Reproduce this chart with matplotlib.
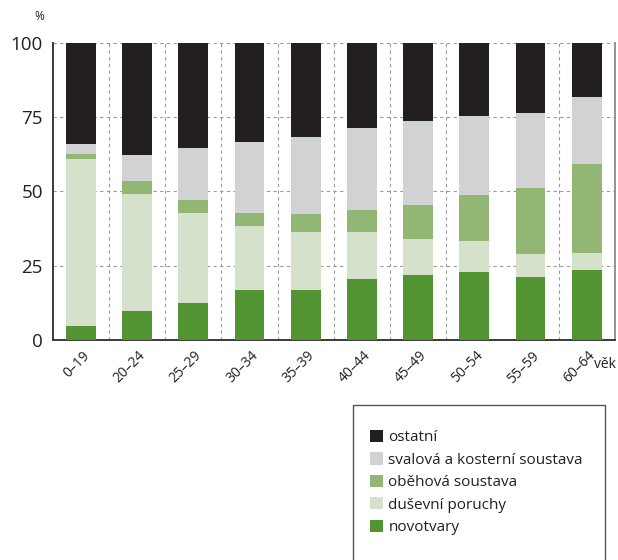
import matplotlib
matplotlib.use("Agg")
import matplotlib.pyplot as plt
import matplotlib.transforms as mtransforms
import numpy as np
from matplotlib.patches import Rectangle

# Age groups and shares (%) per diagnosis group
ages = ["0–19", "20–24", "25–29", "30–34", "35–39",
        "40–44", "45–49", "50–54", "55–59", "60–64"]
novotvary = [4.7, 9.8, 12.4, 16.8, 16.8, 20.5, 21.9, 22.9, 21.2, 23.5]
dusevni = [56.2, 39.3, 30.3, 21.5, 19.5, 15.8, 12.1, 10.4, 7.7, 5.8]
obehova = [1.7, 4.4, 4.4, 4.4, 6.1, 7.4, 11.4, 15.5, 22.2, 29.9]
svalova = [3.3, 8.7, 17.5, 23.9, 25.9, 27.6, 28.3, 26.5, 25.3, 22.5]
ostatni = [34.1, 37.8, 35.4, 33.4, 31.7, 28.7, 26.3, 24.7, 23.6, 18.3]

series = [
    ("novotvary", novotvary, "#529432"),
    ("duševní poruchy", dusevni, "#d5e1cb"),
    ("oběhová soustava", obehova, "#92b775"),
    ("svalová a kosterní soustava", svalova, "#d1d2d4"),
    ("ostatní", ostatni, "#231f20"),
]

plt.rcParams["font.family"] = ["Open Sans", "DejaVu Sans"]

fig = plt.figure(figsize=(6.18, 5.6), dpi=100)
ax = fig.add_axes([0.0853, 0.393, 0.9097, 0.531])

x = np.arange(len(ages))
bottom = np.zeros(len(ages))
handles = []
for label, vals, color in series:
    h = ax.bar(x, vals, width=0.53, bottom=bottom, color=color, label=label, zorder=3)
    handles.append(h)
    bottom += np.array(vals)

# dashed grid
for yv in [25, 50, 75, 100]:
    ax.axhline(yv, color="#9a9a9a", lw=0.8, ls=(0, (3, 3)), zorder=1)
for xv in np.arange(0.5, 9.5, 1.0):
    if abs(xv - 7.5) < 0.01:
        continue
    ax.axvline(xv, color="#9a9a9a", lw=0.8, ls=(0, (3, 3)), zorder=1)

ax.set_xlim(-0.5, 9.5)
ax.set_ylim(0, 100)
ax.set_yticks([0, 25, 50, 75, 100])
ax.tick_params(axis="y", length=0, labelsize=13.5, pad=7, labelcolor="#231f20")
ax.set_xticks(x)
ax.set_xticklabels(ages, rotation=45, ha="right", va="top", rotation_mode="anchor")
ax.tick_params(axis="x", length=0, labelsize=10, pad=6, labelcolor="#231f20")
shift = mtransforms.ScaledTranslation(1 / 100, 0, fig.dpi_scale_trans)
for lbl in ax.get_xticklabels():
    lbl.set_transform(lbl.get_transform() + shift)

ax.spines["top"].set_visible(False)
for side in ["left", "bottom"]:
    ax.spines[side].set_color("#3a3a3a")
    ax.spines[side].set_linewidth(1.4)
ax.spines["right"].set_color("#8a8a8a")
ax.spines["right"].set_linewidth(1.3)

fig.text(39 / 618, 1 - 16 / 560, "%", fontsize=8.5, ha="center", va="center", color="#231f20")
fig.text(594 / 618, 1 - 364 / 560, "věk", fontsize=10, ha="left", va="center", color="#231f20")

# legend box (runs off the bottom edge like the original)
fig.patches.append(Rectangle((353 / 618, -0.05), 252 / 618, 0.05 + 155 / 560,
                             transform=fig.transFigure, facecolor="white",
                             edgecolor="#555555", lw=1.0))
fig.legend(handles[::-1], [s[0] for s in series][::-1],
           loc="upper left", bbox_to_anchor=(370 / 618, 1 - 430 / 560),
           frameon=False, fontsize=11, handlelength=0.85, handleheight=0.85,
           handletextpad=0.35, labelspacing=0.46, borderaxespad=0, borderpad=0,
           labelcolor="#231f20")

fig.savefig("out.png", dpi=100)
